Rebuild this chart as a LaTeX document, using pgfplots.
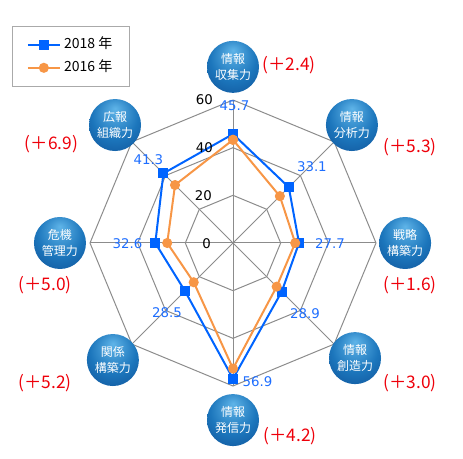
\documentclass[border=0pt]{standalone}
\usepackage{fontspec}
\setmainfont{Noto Sans CJK JP}
\newfontfamily\dv{DejaVu Sans}
\usepackage{pgfplots}
\pgfplotsset{compat=1.18}
\definecolor{cA}{RGB}{0,100,255}
\definecolor{cB}{RGB}{247,150,70}
\definecolor{cLab}{RGB}{30,110,255}
\definecolor{cRed}{RGB}{238,0,10}
\definecolor{cGrid}{RGB}{140,140,140}
\definecolor{ballhi}{RGB}{95,180,232}
\definecolor{ballmid}{RGB}{28,118,188}
\definecolor{balldark}{RGB}{12,72,142}
\pgfdeclareradialshading{jball}{\pgfpoint{0bp}{16bp}}{color(0bp)=(ballhi); color(22bp)=(ballmid); color(44bp)=(balldark); color(50bp)=(balldark)}
\begin{document}
\begin{tikzpicture}
\begin{axis}[
  hide axis,
  x=1.7875pt, y=1.7875pt,
  xmin=-97.76, xmax=96.5, ymin=-90.63, ymax=101.96,
  clip=false,
  legend cell align=left,
  legend image code/.code={\draw[mark repeat=2,mark phase=2,#1] plot coordinates {(0pt,0pt) (11.9pt,0pt) (23.8pt,0pt)};},
  legend style={at={(axis cs:-92.7,91.1)}, anchor=north west, draw={rgb,255:red,170;green,170;blue,170},
    font=\fontsize{10.5}{12}\selectfont, inner xsep=11pt, inner ysep=7pt, row sep=3.25pt, column sep=0.5pt,
    nodes={inner sep=2pt, text height=8pt, text depth=2pt}},
]
% grid octagons
\addplot[forget plot, cGrid, line width=0.75pt, data cs=polar] coordinates {(90,20)(45,20)(0,20)(-45,20)(-90,20)(-135,20)(180,20)(135,20)(90,20)};
\addplot[forget plot, cGrid, line width=0.75pt, data cs=polar] coordinates {(90,40)(45,40)(0,40)(-45,40)(-90,40)(-135,40)(180,40)(135,40)(90,40)};
\addplot[forget plot, cGrid, line width=0.75pt, data cs=polar] coordinates {(90,60)(45,60)(0,60)(-45,60)(-90,60)(-135,60)(180,60)(135,60)(90,60)};
% spokes
\addplot[forget plot, cGrid, line width=0.75pt, data cs=polar] coordinates {(90,60)(-90,60)};
\addplot[forget plot, cGrid, line width=0.75pt, data cs=polar] coordinates {(0,60)(180,60)};
\addplot[forget plot, cGrid, line width=0.75pt, data cs=polar] coordinates {(45,60)(-135,60)};
\addplot[forget plot, cGrid, line width=0.75pt, data cs=polar] coordinates {(135,60)(-45,60)};
% data
\addplot[cA, line width=1.5pt, mark=square*, mark size=3pt, mark options={solid, fill=cA}, data cs=polar]
  coordinates {(90,45.7)(45,33.1)(0,27.7)(-45,28.9)(-90,56.9)(-135,28.5)(180,32.6)(135,41.3)(90,45.7)};
\addlegendentry{2018 年}
\addplot[cB, line width=1.5pt, mark=*, mark size=3pt, mark options={solid, fill=cB}, data cs=polar]
  coordinates {(90,43.3)(45,27.8)(0,26.1)(-45,25.9)(-90,52.7)(-135,23.3)(180,27.6)(135,34.4)(90,43.3)};
\addlegendentry{2016 年}
% tick labels
\begin{scope}[every node/.style={font=\dv\fontsize{10}{12}\selectfont, inner sep=0pt, anchor=east}]
\node at (axis cs:-8.3,60.2) {60};
\node at (axis cs:-8.3,40) {40};
\node at (axis cs:-8.8,19.8) {20};
\node at (axis cs:-9.2,-0.4) {0};
\end{scope}
% value labels
\begin{scope}[every node/.style={font=\dv\fontsize{10}{12}\selectfont, inner sep=0pt, text=cLab}]
\node at (axis cs:0.6,57.5) {45.7};
\node at (axis cs:33.1,31.9) {33.1};
\node at (axis cs:40.7,-0.4) {27.7};
\node at (axis cs:30.2,-29.8) {28.9};
\node at (axis cs:10.3,-58.3) {56.9};
\node at (axis cs:-27.7,-29.4) {28.5};
\node at (axis cs:-44.3,-0.4) {32.6};
\node at (axis cs:-35.5,34.8) {41.3};
\end{scope}
% category balls
\begin{scope}[every node/.style={circle, minimum size=39pt, inner sep=0pt, shading=jball, text=white, align=center, font=\fontsize{9}{12}\selectfont}]
\node at (axis cs:0,73.9) {情報\\収集力};
\node at (axis cs:49.9,49.5) {情報\\分析力};
\node at (axis cs:72.2,0) {戦略\\構築力};
\node at (axis cs:51.2,-48.3) {情報\\創造力};
\node at (axis cs:0,-74.3) {情報\\発信力};
\node at (axis cs:-50.4,-49.1) {関係\\構築力};
\node at (axis cs:-72.6,0) {危機\\管理力};
\node at (axis cs:-49.5,49.5) {広報\\組織力};
\end{scope}
% differences
\begin{scope}[every node/.style={font=\fontsize{13}{15}\selectfont, inner sep=0pt, text=cRed}]
\node at (axis cs:23.5,74.6) {(＋2.4)};
\node at (axis cs:74.3,40.3) {(＋5.3)};
\node at (axis cs:74.3,-17.6) {(＋1.6)};
\node at (axis cs:74.3,-58.7) {(＋3.0)};
\node at (axis cs:23.9,-81) {(＋4.2)};
\node at (axis cs:-78.9,-58.7) {(＋5.2)};
\node at (axis cs:-78.9,-17.6) {(＋5.0)};
\node at (axis cs:-76.2,41.5) {(＋6.9)};
\end{scope}
\path (axis cs:-97.76,-90.63) rectangle (axis cs:96.5,101.96);
\end{axis}
\end{tikzpicture}
\end{document}
